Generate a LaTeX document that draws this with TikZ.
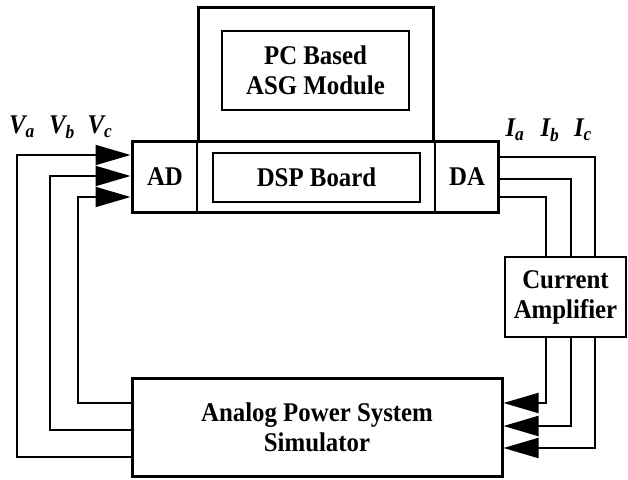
\documentclass[tikz,border=0pt]{standalone}
\usepackage{fontspec}
\setmainfont{Liberation Serif}[FakeStretch=0.92]
\usetikzlibrary{arrows.meta}
\begin{document}
\begin{tikzpicture}[x=1pt,y=-1pt,
  font=\fontsize{27}{30}\selectfont\bfseries,
  box/.style={draw,line width=2pt,align=center,inner sep=0pt},
  bigbox/.style={box,line width=3pt},
  sig/.style={line width=2pt},
  tip/.style={-{Triangle[length=35pt,width=20pt]}}]
\useasboundingbox (0,0) rectangle (628,479);
\node[bigbox,minimum width=235pt,minimum height=134pt] (pc) at (315.5,74) {};
\node[box,minimum width=187pt,minimum height=79pt] (asg) at (315.5,70.5) {PC Based\\ASG Module};
\node[bigbox,minimum width=366pt,minimum height=71pt] (board) at (315,176.5) {};
\draw[line width=1.2pt] (board.north -| 197,0) -- (board.south -| 197,0);
\draw[line width=1.2pt] (board.north -| 435,0) -- (board.south -| 435,0);
\node[box,minimum width=207pt,minimum height=49pt] (dsp) at (316.5,177.5) {DSP Board};
\node (ad) at (165,177) {AD};
\node (da) at (467,177) {DA};
\node[box,minimum width=121pt,minimum height=80pt] (amp) at (565.5,297) {Current\\Amplifier};
\node[bigbox,minimum width=370pt,minimum height=98pt] (sim) at (317,427) {Analog Power System\\Simulator};
\foreach \yi/\xs/\yo in {155/17/457,176/50/430,197/78/403}
  \draw[sig,tip] (sim.west |- 0,\yo) -| (\xs,\yi) -- (board.west |- 0,\yi);
\foreach \yi/\xs/\yo in {157/595/448,179/571/426,197/546/403}{
  \draw[sig] (board.east |- 0,\yi) -| (amp.north -| \xs,0);
  \draw[sig,tip] (amp.south -| \xs,0) |- (sim.east |- 0,\yo);
}
\foreach \n/\x in {a/22,b/62,c/100}
  \node (v\n) at (\x,127) {\textit{V\textsubscript{\n}}};
\foreach \n/\x in {a/515,b/550,c/583}
  \node (i\n) at (\x,130) {\textit{I\textsubscript{\n}}};
\end{tikzpicture}
\end{document}
